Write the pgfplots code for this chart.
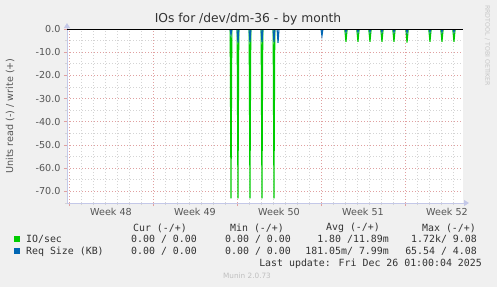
\documentclass[border=0pt]{standalone}
\usepackage{pgfplots}
\pgfplotsset{compat=1.18}
\usetikzlibrary{arrows.meta}
\usepackage{fontspec}
\setmainfont{DejaVu Sans}
\newfontfamily\monofont{DejaVu Sans Mono}
\definecolor{bg}{HTML}{F0F0F0}
\definecolor{ioGreen}{HTML}{00CC00}
\definecolor{reqBlue}{HTML}{0066B3}
\definecolor{txt}{HTML}{555555}
\definecolor{legtxt}{HTML}{333333}
\definecolor{majgrid}{HTML}{E0A0A0}
\definecolor{mingrid}{HTML}{D4D4D4}
\definecolor{axisc}{HTML}{C4C8E8}
\begin{document}
\begin{tikzpicture}[x=1pt,y=1pt]
\fill[bg] (0,0) rectangle (497,-287);
\path[use as bounding box] (0,0) rectangle (497,-287);
\begin{axis}[
  at={(67pt,-29pt)}, anchor=north west,
  scale only axis, width=396pt, height=174pt,
  xmin=-0.1667, xmax=32.8333, ymin=-75, ymax=0,
  axis background/.style={fill=white},
  axis lines=left,
  axis line style={axisc, line width=0.8pt, shorten >=-6pt, -{Triangle[width=6pt,length=5pt]}},
  xtick={0,7,14,21,28}, xticklabels={},
  minor xtick={1,2,3,4,5,6,8,9,10,11,12,13,15,16,17,18,19,20,22,23,24,25,26,27,29,30,31,32},
  extra x ticks={3.5,10.5,17.5,24.5,31.5},
  extra x tick labels={Week 48,Week 49,Week 50,Week 51,Week 52},
  extra x tick style={grid=none, major tick length=0pt},
  ytick={-70,-60,-50,-40,-30,-20,-10,0},
  yticklabels={-70.0,-60.0,-50.0,-40.0,-30.0,-20.0,-10.0,0.0},
  minor ytick={-75,-65,-55,-45,-35,-25,-15,-5},
  grid=both,
  major grid style={majgrid, line width=0.8pt, dash pattern=on 1pt off 2pt},
  minor grid style={mingrid, line width=0.8pt, dash pattern=on 1pt off 2pt},
  tick align=outside,
  major tick length=3pt, minor tick length=2pt,
  major tick style={majgrid, line width=0.8pt},
  minor tick style={mingrid, line width=0.8pt},
  ticklabel style={font=\fontsize{9.6}{11}\selectfont, text=txt},
  /pgf/number format/assume math mode=true,
  xticklabel style={yshift=-2pt},
]
\addplot[ioGreen, line width=1.1pt, line join=miter] coordinates {
(-0.17,0) (13.43,0) (13.5,-73) (13.57,0)
(14.01,0) (14.08,-73) (14.15,0)
(15.01,0) (15.08,-73) (15.15,0)
(16.01,0) (16.08,-73) (16.15,0)
(17.01,0) (17.08,-73) (17.15,0)
(22.98,0) (23.08,-5.5) (23.18,0)
(23.98,0) (24.08,-5.5) (24.18,0)
(24.98,0) (25.08,-5.5) (25.18,0)
(25.98,0) (26.08,-5.5) (26.18,0)
(26.98,0) (27.08,-5.5) (27.18,0)
(28.07,0) (28.17,-5.9) (28.27,0)
(29.98,0) (30.08,-5.5) (30.18,0)
(30.98,0) (31.08,-5.5) (31.18,0)
(31.98,0) (32.08,-5.5) (32.18,0)
(32.83,0)};
\addplot[reqBlue, line width=1.1pt, line join=miter] coordinates {
(-0.17,0) (13.42,0) (13.5,-2.5) (13.58,0)
(14.0,0) (14.08,-5.9) (14.16,0)
(15.0,0) (15.08,-5.6) (15.16,0)
(16.0,0) (16.08,-5.6) (16.16,0)
(17.0,0) (17.08,-5.6) (17.16,0)
(17.34,0) (17.42,-6.0) (17.5,0)
(21.0,0) (21.08,-3.0) (21.16,0)
(23.02,0) (23.08,-1.3) (23.14,0)
(24.02,0) (24.08,-1.3) (24.14,0)
(25.02,0) (25.08,-1.3) (25.14,0)
(26.02,0) (26.08,-1.3) (26.14,0)
(27.02,0) (27.08,-1.3) (27.14,0)
(28.11,0) (28.17,-1.5) (28.23,0)
(30.02,0) (30.08,-1.3) (30.14,0)
(31.02,0) (31.08,-1.3) (31.14,0)
(32.02,0) (32.08,-1.3) (32.14,0)
(32.83,0)};
\addplot[black, line width=1.2pt] coordinates {(-0.17,0) (32.83,0)};
\end{axis}
% title and labels
\node[text=legtxt, font=\fontsize{12.3}{14}\selectfont] at (248,-19) {IOs for /dev/dm-36 - by month};
\node[text=txt, rotate=90, font=\fontsize{9.6}{11}\selectfont] at (10,-116) {Units read (-) / write (+)};
\node[text=black!22, rotate=-90, font=\fontsize{6.3}{7}\selectfont, anchor=west, inner sep=0pt] at (487.5,-5) {RRDTOOL / TOBI OETIKER};
% legend
\begin{scope}[every node/.style={inner sep=0pt, text=legtxt, font=\monofont\fontsize{9.9}{11}\selectfont}]
\node[anchor=east] at (187,-228) {Cur (-/+)};
\node[anchor=east] at (284,-228) {Min (-/+)};
\node[anchor=east] at (380,-228) {Avg (-/+)};
\node[anchor=east] at (476,-228) {Max (-/+)};
\fill[ioGreen] (14,-236) rectangle (20,-242);
\fill[reqBlue] (14,-248) rectangle (20,-254);
\node[anchor=west] at (26,-239.5) {IO/sec};
\node[anchor=west] at (26,-251.5) {Req Size (KB)};
\node[anchor=east] at (197,-239.5) {0.00 / 0.00};
\node[anchor=east] at (291,-239.5) {0.00 / 0.00};
\node[anchor=east] at (389,-239.5) {1.80 /11.89m};
\node[anchor=east] at (477,-239.5) {1.72k/ 9.08};
\node[anchor=east] at (197,-251.5) {0.00 / 0.00};
\node[anchor=east] at (291,-251.5) {0.00 / 0.00};
\node[anchor=east] at (389,-251.5) {181.05m/ 7.99m};
\node[anchor=east] at (477,-251.5) {65.54 / 4.08};
\node[anchor=east] at (482,-264) {Last update: Fri Dec 26 01:00:04 2025};
\end{scope}
\node[text=black!25, font=\fontsize{7.3}{8}\selectfont] at (247,-276) {Munin 2.0.73};
\end{tikzpicture}
\end{document}
